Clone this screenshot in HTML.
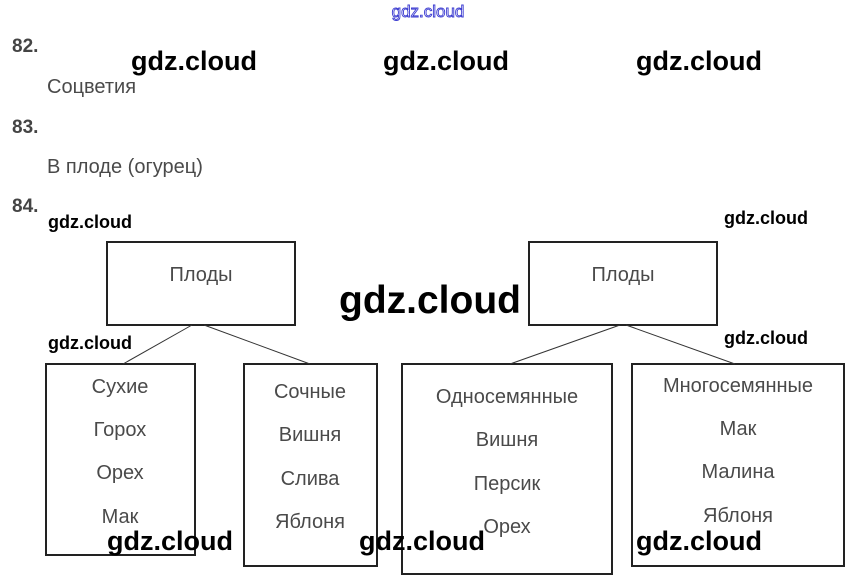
<!DOCTYPE html>
<html><head><meta charset="utf-8"><style>
html,body{margin:0;padding:0;background:#fff;width:856px;height:584px;overflow:hidden}
svg{display:block}
.g{font-family:"Liberation Sans",Arial,sans-serif;fill:#4a4a4a;font-size:20px}
.n{font-family:"Liberation Sans",Arial,sans-serif;fill:#444;font-size:19px;font-weight:bold}
.w{font-family:"Liberation Sans",Arial,sans-serif;fill:#000;font-weight:bold}
</style></head><body>
<svg width="856" height="584" viewBox="0 0 856 584" xmlns="http://www.w3.org/2000/svg">
<text x="428" y="17" text-anchor="middle" font-family="Liberation Sans,sans-serif" font-size="17" fill="#fff" stroke="#3a3ad0" stroke-width="0.9">gdz.cloud</text>
<text class="n" x="12" y="52">82.</text>
<text class="g" x="47" y="93">Соцветия</text>
<text class="n" x="12" y="133">83.</text>
<text class="g" x="47" y="173">В плоде (огурец)</text>
<text class="n" x="12" y="212">84.</text>
<g fill="none" stroke="#222" stroke-width="2">
<rect x="107" y="242" width="188" height="83"/>
<rect x="529" y="242" width="188" height="83"/>
<rect x="46" y="364" width="149" height="191"/>
<rect x="244" y="364" width="133" height="202"/>
<rect x="402" y="364" width="210" height="210"/>
<rect x="632" y="364" width="212" height="202"/>
</g>
<g stroke="#333" stroke-width="1">
<line x1="192" y1="325" x2="123" y2="364"/>
<line x1="204" y1="325" x2="310" y2="364"/>
<line x1="620" y1="325" x2="510" y2="364"/>
<line x1="626" y1="325" x2="735" y2="364"/>
</g>
<g class="g" text-anchor="middle">
<text x="201" y="281">Плоды</text>
<text x="623" y="281">Плоды</text>
<text x="120" y="393">Сухие</text>
<text x="120" y="436">Горох</text>
<text x="120" y="479">Орех</text>
<text x="120" y="523">Мак</text>
<text x="310" y="398">Сочные</text>
<text x="310" y="441">Вишня</text>
<text x="310" y="485">Слива</text>
<text x="310" y="528">Яблоня</text>
<text x="507" y="403">Односемянные</text>
<text x="507" y="446">Вишня</text>
<text x="507" y="490">Персик</text>
<text x="507" y="533">Орех</text>
<text x="738" y="392">Многосемянные</text>
<text x="738" y="435">Мак</text>
<text x="738" y="478">Малина</text>
<text x="738" y="522">Яблоня</text>
</g>
<g class="w">
<text x="131" y="70" font-size="27">gdz.cloud</text>
<text x="383" y="70" font-size="27">gdz.cloud</text>
<text x="636" y="70" font-size="27">gdz.cloud</text>
<text x="48" y="228" font-size="18">gdz.cloud</text>
<text x="724" y="224" font-size="18">gdz.cloud</text>
<text x="339" y="313" font-size="39">gdz.cloud</text>
<text x="48" y="349" font-size="18">gdz.cloud</text>
<text x="724" y="344" font-size="18">gdz.cloud</text>
<text x="107" y="550" font-size="27">gdz.cloud</text>
<text x="359" y="550" font-size="27">gdz.cloud</text>
<text x="636" y="550" font-size="27">gdz.cloud</text>
</g>
</svg>
</body></html>
